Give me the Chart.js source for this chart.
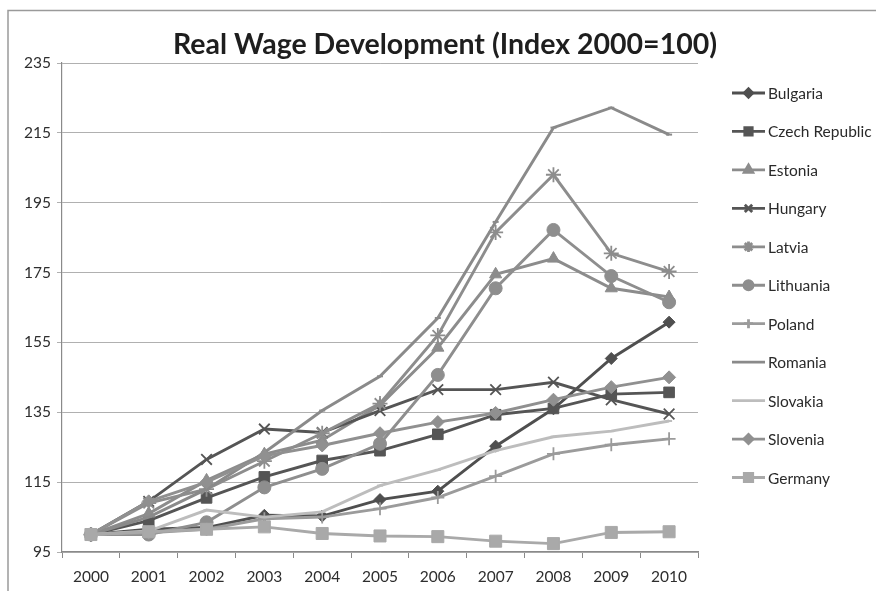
<!DOCTYPE html>
<html><head><meta charset="utf-8">
<script src="https://cdn.jsdelivr.net/npm/chart.js@4/dist/chart.umd.min.js"></script>
<style>html,body{margin:0;padding:0;background:#fff}#wrap{position:relative;width:876px;height:591px}</style>
</head><body><div id="wrap"><canvas id="c" width="876" height="591"></canvas></div>
<script>
const years = ['2000','2001','2002','2003','2004','2005','2006','2007','2008','2009','2010'];
const yTicks = [95, 115, 135, 155, 175, 195, 215, 235];
const chartTitle = 'Real Wage Development (Index 2000=100)';
const countries = ['Bulgaria','Czech Republic','Estonia','Hungary','Latvia','Lithuania','Poland','Romania','Slovakia','Slovenia','Germany'];
const bulgaria  = [100, 101.5, 102, 105.5, 105.3, 110, 112.4, 125.3, 136, 150.4, 160.8];
const czech     = [100, 104, 110.5, 116.5, 121.2, 124, 128.7, 134.3, 136.1, 140.2, 140.7];
const estonia   = [100, 106, 115.5, 123, 127, 137, 153.5, 174.5, 179, 170.5, 168];
const hungary   = [100, 109.5, 121.5, 130.2, 129.2, 135.5, 141.5, 141.5, 143.6, 138.6, 134.5];
const latvia    = [100, 109, 113, 121, 129, 137.5, 157, 186.5, 203, 180.5, 175.3];
const lithuania = [100, 100, 103.5, 113.5, 118.8, 126, 145.7, 170.5, 187.2, 174, 166.5];
const poland    = [100, 100.5, 101.5, 104.5, 105, 107.4, 110.6, 116.7, 123.1, 125.7, 127.4];
const romania   = [100, 105, 113, 123.5, 135.5, 145.3, 162, 189.5, 216.5, 222.2, 214.5];
const slovakia  = [100, 101, 107, 105, 106.5, 114, 118.5, 124, 128, 129.6, 132.5];
const slovenia  = [100, 109.5, 115, 122.5, 125.5, 129, 132.2, 134.8, 138.6, 142.2, 145];
const germany   = [100, 100.8, 101.5, 102.2, 100.3, 99.6, 99.4, 98.1, 97.4, 100.6, 100.8];

const seriesValues = [bulgaria, czech, estonia, hungary, latvia, lithuania, poland, romania, slovakia, slovenia, germany];
const styles = [
  {c:'#4f4f4f', p:'rectRot', r:6, bw:1},
  {c:'#555555', p:'rect', r:7.5, bw:1},
  {c:'#8c8c8c', p:'triangle', r:7, bw:1},
  {c:'#555555', p:'crossRot', r:7.5, bw:1.8},
  {c:'#8d8d8d', p:'star', r:7.5, bw:1.8},
  {c:'#8e8e8e', p:'circle', r:6.5, bw:1},
  {c:'#9b9b9b', p:'cross', r:6.5, bw:1.8},
  {c:'#8a8a8a', p:'line', r:3, bw:2},
  {c:'#bdbdbd', p:'line', r:3, bw:2},
  {c:'#909090', p:'rectRot', r:6.5, bw:1},
  {c:'#a9a9a9', p:'rect', r:8.5, bw:1}
];

const datasets = countries.map((name, i) => ({
  label: name,
  data: seriesValues[i],
  borderColor: styles[i].c,
  backgroundColor: styles[i].c,
  borderWidth: 2.9,
  pointStyle: styles[i].p,
  pointRadius: styles[i].r,
  pointBorderWidth: styles[i].bw,
  pointBackgroundColor: styles[i].c,
  pointBorderColor: styles[i].c,
  tension: 0,
  order: countries.length - i
}));

const FONT = 'Lato, "Open Sans", sans-serif';

const deco = {
  id: 'deco',
  beforeDraw(chart) {
    const ctx = chart.ctx;
    ctx.save();
    ctx.fillStyle = '#fff';
    ctx.fillRect(0, 0, chart.width, chart.height);
    ctx.strokeStyle = '#9a9a9a';
    ctx.lineWidth = 1.5;
    ctx.beginPath();
    ctx.moveTo(8, 591); ctx.lineTo(8, 10.5); ctx.lineTo(876, 10.5);
    ctx.stroke();
    ctx.restore();
  },
  afterDraw(chart) {
    const ctx = chart.ctx;
    ctx.save();
    ctx.fillStyle = '#1e1e1e';
    ctx.font = 'bold 28.5px ' + FONT;
    ctx.textAlign = 'center';
    ctx.textBaseline = 'middle';
    ctx.fillText(chartTitle, 445, 45);
    const dp = Chart.helpers && Chart.helpers.drawPoint;
    chart.data.datasets.forEach((ds, i) => {
      const y = 93 + i * 38.45;
      ctx.strokeStyle = ds.borderColor;
      ctx.lineWidth = 2.8;
      ctx.beginPath(); ctx.moveTo(732, y); ctx.lineTo(765, y); ctx.stroke();
      if (dp && ds.pointStyle !== 'line') {
        ctx.fillStyle = ds.borderColor;
        dp(ctx, {pointStyle: ds.pointStyle, radius: ds.pointRadius * 0.7, rotation: 0, borderWidth: ds.pointBorderWidth}, 748.5, y);
      }
      ctx.fillStyle = '#2a2a2a';
      ctx.font = '15.5px ' + FONT;
      ctx.textAlign = 'left';
      ctx.fillText(ds.label, 768, y + 1);
    });
    ctx.restore();
  }
};

new Chart(document.getElementById('c'), {
  type: 'line',
  data: { labels: years, datasets },
  options: {
    responsive: false,
    animation: false,
    devicePixelRatio: 1,
    layout: { padding: { top: 63, right: 178, left: 0, bottom: 0 } },
    plugins: { legend: { display: false }, title: { display: false }, tooltip: { enabled: false } },
    scales: {
      x: {
        offset: true,
        afterFit(s) { s.height = 39; },
        grid: { display: true, drawOnChartArea: false, drawTicks: true, tickLength: 6, offset: true, color: '#8a8a8a', lineWidth: 1 },
        border: { display: true, color: '#8a8a8a', width: 1.2 },
        ticks: { color: '#2e2e2e', font: { family: FONT, size: 15.5 }, padding: 10, maxRotation: 0 }
      },
      y: {
        min: 95, max: 235,
        afterFit(s) { s.width = 62; },
        afterBuildTicks(s) { s.ticks = yTicks.map(v => ({ value: v })); },
        grid: { color: '#b0b0b0', lineWidth: 1, drawTicks: true, tickLength: 5 },
        border: { display: true, color: '#8a8a8a', width: 1.2 },
        ticks: { color: '#2e2e2e', font: { family: FONT, size: 15.5 }, padding: 6 }
      }
    }
  },
  plugins: [deco]
});
</script>
</body></html>
